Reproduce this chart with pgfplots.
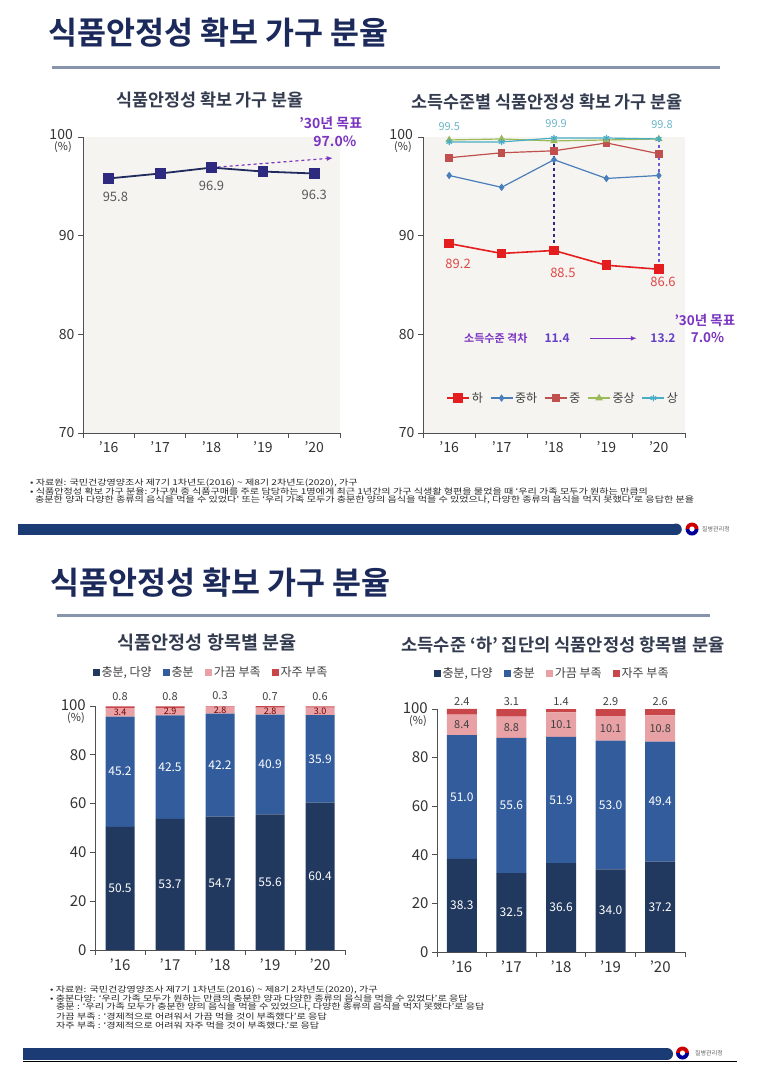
\documentclass[border=0pt]{standalone}
\usepackage{fontspec}
\setmainfont{Noto Sans CJK KR}[BoldFont={Noto Sans CJK KR Bold}]
\usepackage{graphicx}
\usepackage{pgfplots}
\pgfplotsset{compat=1.18}
\usetikzlibrary{arrows.meta}
\definecolor{titlenavy}{HTML}{1B2A5A}
\definecolor{rulegray}{HTML}{8794AB}
\definecolor{bgbeige}{HTML}{F6F4F0}
\definecolor{line1}{HTML}{1F2A5E}
\definecolor{mark1}{HTML}{2E2A80}
\definecolor{ctitle}{HTML}{333B4F}
\definecolor{purp}{HTML}{7A34C0}
\definecolor{purpb}{HTML}{6440C8}
\definecolor{ha}{HTML}{E41E1E}
\definecolor{jungha}{HTML}{4A7EBB}
\definecolor{jung}{HTML}{C0504D}
\definecolor{jungsang}{HTML}{9BBB59}
\definecolor{sang}{HTML}{4BACC6}
\definecolor{cA}{HTML}{22395F}
\definecolor{cB}{HTML}{335C9C}
\definecolor{cC}{HTML}{E8A2A6}
\definecolor{cD}{HTML}{C8464A}
\definecolor{footnavy}{HTML}{1A3B73}
\definecolor{labgray}{HTML}{595959}
\definecolor{axgray}{HTML}{505050}
\definecolor{vline1}{HTML}{2E2A80}
\definecolor{vline2}{HTML}{6A5FD0}
\definecolor{redlab}{HTML}{E04848}
\definecolor{cyanlab}{HTML}{6CB6C8}

\tikzset{
  wlab/.style={text=white, font=\fontsize{12}{12}\selectfont},
  plab/.style={text=red!45!black, font=\fontsize{9}{9}\selectfont, inner sep=0},
  tlab/.style={text=black!75, font=\fontsize{11}{11}\selectfont},
  fnote/.style={anchor=west, inner sep=0, text=black!85, font=\fontsize{8}{8}\selectfont},
}

\pgfplotsset{
  slide/.style={
    scale only axis,
    axis lines=left,
    axis line style={-, draw=axgray, line width=0.8pt},
    xmin=-0.5, xmax=4.5,
    xtick={0,...,4},
    xticklabels={’16,’17,’18,’19,’20},
    minor xtick={-0.5,0.5,1.5,2.5,3.5,4.5},
    major x tick style={draw=none},
    minor x tick style={draw=axgray, line width=0.8pt},
    y tick style={draw=axgray, line width=0.8pt},
    tick align=outside,
    major tick length=5pt, minor tick length=5pt,
    tick label style={font=\fontsize{14}{14}\selectfont, text=black!80},
    /pgf/number format/assume math mode=true,
    clip=false,
  }
}

\newcommand{\fn}[1]{\scalebox{1.26}[1]{#1}}

\begin{document}
\begin{tikzpicture}[x=1pt,y=1pt]
\useasboundingbox (0,0) rectangle (771,-1074);
\fill[white] (0,0) rectangle (771,-1074);

% ===== Panel 1 header =====
\node[anchor=west, font=\fontsize{31.5}{32}\selectfont\bfseries, text=titlenavy, inner sep=0] at (48,-33) {식품안정성 확보 가구 분율};
\fill[rulegray] (52,-65.5) rectangle (720,-69);

\node[font=\fontsize{17.4}{17.4}\selectfont\bfseries, text=ctitle] at (210,-100) {식품안정성 확보 가구 분율};
\node[font=\fontsize{17.4}{17.4}\selectfont\bfseries, text=ctitle] at (547,-102) {소득수준별 식품안정성 확보 가구 분율};

% ===== Chart 1 =====
\begin{axis}[slide, at={(83pt,-433pt)}, anchor=south west, width=257pt, height=296pt,
  ymin=70, ymax=100, ytick={70,80,90,100}, yticklabels={70,80,90,{}},
  axis background/.style={fill=bgbeige}]
\draw[purp, dashed, line width=1.2pt, -{Latex[length=6pt,width=5pt]}] (axis cs:2.12,96.95) -- (axis cs:4.36,97.87);
\addplot[line1, line width=1.8pt, mark=square*, mark size=4.5pt, mark options={fill=mark1, draw=mark1, solid}]
  coordinates {(0,95.8)(1,96.3)(2,96.9)(3,96.5)(4,96.3)};
\node[text=labgray, font=\fontsize{13}{13}\selectfont] at (axis cs:0.13,93.9) {95.8};
\node[text=labgray, font=\fontsize{13}{13}\selectfont] at (axis cs:2.0,95.0) {96.9};
\node[text=labgray, font=\fontsize{13}{13}\selectfont] at (axis cs:4.0,94.1) {96.3};
\node[text=purp, font=\fontsize{14}{14}\selectfont\bfseries] at (axis cs:4.32,101.4) {’30년 목표};
\node[text=purp, font=\fontsize{14}{14}\selectfont\bfseries] at (axis cs:4.4,99.6) {97.0\%};
\node[anchor=east, text=black!80, font=\fontsize{14}{14}\selectfont, inner sep=0] at (axis cs:-0.5,100) [xshift=-10pt, yshift=2pt] {100};
\node[anchor=north east, text=black!80, font=\fontsize{11}{11}\selectfont, inner sep=0] at (axis cs:-0.5,100) [xshift=-11pt, yshift=-4pt] {(\%)};
\end{axis}

% ===== Chart 2 =====
\begin{axis}[slide, at={(423pt,-433pt)}, anchor=south west, width=262pt, height=296pt,
  ymin=70, ymax=100, ytick={70,80,90,100}, yticklabels={70,80,90,{}},
  axis background/.style={fill=bgbeige},
  legend style={at={(0.535,0.118)}, anchor=center, draw=none, fill=none, legend columns=5,
    font=\fontsize{12}{12}\selectfont, text=black!75,
    /tikz/every even column/.append style={column sep=5pt}},
  legend image code/.code={\draw[mark repeat=2,mark phase=2,#1] plot coordinates {(0pt,0pt) (11pt,0pt) (22pt,0pt)};}]
\draw[vline1, dashed, line width=1.4pt] (axis cs:2,99.9) -- (axis cs:2,88.5);
\draw[vline2, dashed, line width=1.4pt] (axis cs:4,99.8) -- (axis cs:4,86.6);
\addplot[ha, line width=1.6pt, mark=square*, mark size=4pt, mark options={fill=ha}]
  coordinates {(0,89.2)(1,88.2)(2,88.5)(3,87.0)(4,86.6)};
\addlegendentry{하}
\addplot[jungha, line width=1.2pt, mark=diamond*, mark size=2.8pt, mark options={fill=jungha}]
  coordinates {(0,96.1)(1,94.9)(2,97.7)(3,95.8)(4,96.1)};
\addlegendentry{중하}
\addplot[jung, line width=1.2pt, mark=square*, mark size=3.2pt, mark options={fill=jung}]
  coordinates {(0,97.9)(1,98.4)(2,98.6)(3,99.4)(4,98.3)};
\addlegendentry{중}
\addplot[jungsang, line width=1.2pt, mark=triangle*, mark size=3.2pt, mark options={fill=jungsang}]
  coordinates {(0,99.7)(1,99.8)(2,99.6)(3,99.7)(4,99.8)};
\addlegendentry{중상}
\addplot[sang, line width=1.2pt, mark=asterisk, mark size=3.2pt]
  coordinates {(0,99.5)(1,99.5)(2,99.9)(3,99.9)(4,99.8)};
\addlegendentry{상}
\node[text=cyanlab, font=\fontsize{11}{11}\selectfont] at (axis cs:0,101.1) {99.5};
\node[text=cyanlab, font=\fontsize{11}{11}\selectfont] at (axis cs:2.04,101.4) {99.9};
\node[text=cyanlab, font=\fontsize{11}{11}\selectfont] at (axis cs:4.06,101.3) {99.8};
\node[text=redlab, font=\fontsize{13}{13}\selectfont] at (axis cs:0.17,87.1) {89.2};
\node[text=redlab, font=\fontsize{13}{13}\selectfont] at (axis cs:2.17,86.2) {88.5};
\node[text=redlab, font=\fontsize{13}{13}\selectfont] at (axis cs:4.08,85.3) {86.6};
\node[text=purp, font=\fontsize{11}{11}\selectfont\bfseries] at (axis cs:0.89,79.6) {소득수준 격차};
\node[text=purpb, font=\fontsize{12}{12}\selectfont\bfseries] at (axis cs:2.06,79.6) {11.4};
\draw[purp, line width=1.5pt, -{Latex[length=6pt,width=5pt]}] (axis cs:2.69,79.6) -- (axis cs:3.58,79.6);
\node[text=purpb, font=\fontsize{12}{12}\selectfont\bfseries] at (axis cs:4.08,79.6) {13.2};
\node[text=purp, font=\fontsize{13.5}{13.5}\selectfont\bfseries] at (axis cs:4.88,81.45) {’30년 목표};
\node[text=purp, font=\fontsize{13.5}{13.5}\selectfont\bfseries] at (axis cs:4.93,79.7) {7.0\%};
\node[anchor=east, text=black!80, font=\fontsize{14}{14}\selectfont, inner sep=0] at (axis cs:-0.5,100) [xshift=-10pt, yshift=2pt] {100};
\node[anchor=north east, text=black!80, font=\fontsize{11}{11}\selectfont, inner sep=0] at (axis cs:-0.5,100) [xshift=-11pt, yshift=-4pt] {(\%)};
\end{axis}

% footnotes panel 1
\node[fnote] at (30,-483) {\fn{• 자료원: 국민건강영양조사 제7기 1차년도(2016) \textasciitilde{} 제8기 2차년도(2020), 가구}};
\node[fnote] at (30,-491.5) {\fn{• 식품안정성 확보 가구 분율: 가구원 중 식품구매를 주로 담당하는 1명에게 최근 1년간의 가구 식생활 형편을 물었을 때 ‘우리 가족 모두가 원하는 만큼의}};
\node[fnote] at (35,-500) {\fn{충분한 양과 다양한 종류의 음식을 먹을 수 있었다’ 또는 ‘우리 가족 모두가 충분한 양의 음식을 먹을 수 있었으나, 다양한 종류의 음식을 먹지 못했다’로 응답한 분율}};
\fill[footnavy] (18,-523.5) rectangle (676,-535);
\fill[footnavy] (676,-529.25) circle (5.75);
\fill[red!80!black] (685.5,-529) arc (180:0:6.5) -- cycle;
\fill[blue!60!black] (685.5,-529) arc (180:360:6.5) -- cycle;
\fill[white] (692,-529) circle (2.6);
\node[anchor=west, inner sep=0, text=black!60, font=\fontsize{6}{6}\selectfont] at (702,-529) {질병관리청};

% ===== Panel 2 header =====
\node[anchor=west, font=\fontsize{31.5}{32}\selectfont\bfseries, text=titlenavy, inner sep=0] at (50,-583) {식품안정성 확보 가구 분율};
\fill[rulegray] (57,-613.5) rectangle (710,-617);

\node[font=\fontsize{18.5}{18.5}\selectfont\bfseries, text=ctitle] at (207,-643) {식품안정성 항목별 분율};
\node[font=\fontsize{17.6}{17.6}\selectfont\bfseries, text=ctitle] at (563,-645) {소득수준 ‘하’ 집단의 식품안정성 항목별 분율};

% ===== Chart 3 =====
\begin{axis}[slide, at={(95pt,-950pt)}, anchor=south west, width=250pt, height=244pt,
  ybar stacked, bar width=29pt, ymin=0, ymax=100,
  ytick={0,20,40,60,80,100}, yticklabels={0,20,40,60,80,{}},
  tick label style={font=\fontsize{15}{15}\selectfont, text=black!80},
  legend style={at={(0.464,1.139)}, anchor=center, draw=none, fill=none, legend columns=4,
    font=\fontsize{12}{12}\selectfont, text=black!75,
    /tikz/every even column/.append style={column sep=9pt}},
  legend image code/.code={\fill[#1] (0pt,-3.5pt) rectangle (7pt,3.5pt);}]
\addplot[fill=cA, draw=none] coordinates {(0,50.5)(1,53.7)(2,54.7)(3,55.6)(4,60.4)};
\addlegendentry{충분, 다양}
\addplot[fill=cB, draw=none] coordinates {(0,45.2)(1,42.5)(2,42.2)(3,40.9)(4,35.9)};
\addlegendentry{충분}
\addplot[fill=cC, draw=none] coordinates {(0,3.4)(1,2.9)(2,2.8)(3,2.8)(4,3.0)};
\addlegendentry{가끔 부족}
\addplot[fill=cD, draw=none] coordinates {(0,0.8)(1,0.8)(2,0.3)(3,0.7)(4,0.6)};
\addlegendentry{자주 부족}
\coordinate (a0) at (axis cs:0,25.25);
\coordinate (a1) at (axis cs:1,26.85);
\coordinate (a2) at (axis cs:2,27.35);
\coordinate (a3) at (axis cs:3,27.8);
\coordinate (a4) at (axis cs:4,30.2);
\coordinate (b0) at (axis cs:0,73.1);
\coordinate (b1) at (axis cs:1,74.95);
\coordinate (b2) at (axis cs:2,75.8);
\coordinate (b3) at (axis cs:3,76.05);
\coordinate (b4) at (axis cs:4,78.35);
\coordinate (c0) at (axis cs:0,97.4);
\coordinate (c1) at (axis cs:1,97.65);
\coordinate (c2) at (axis cs:2,98.3);
\coordinate (c3) at (axis cs:3,97.9);
\coordinate (c4) at (axis cs:4,97.8);
\node[tlab] at (axis cs:0,103.7) {0.8};
\node[tlab] at (axis cs:1,103.7) {0.8};
\node[tlab] at (axis cs:2,104.2) {0.3};
\node[tlab] at (axis cs:3,103.7) {0.7};
\node[tlab] at (axis cs:4,103.7) {0.6};
\node[anchor=east, text=black!80, font=\fontsize{15}{15}\selectfont, inner sep=0] at (axis cs:-0.5,100) [xshift=-9pt, yshift=1pt] {100};
\node[anchor=north east, text=black!80, font=\fontsize{11}{11}\selectfont, inner sep=0] at (axis cs:-0.5,100) [xshift=-10pt, yshift=-6pt] {(\%)};
\end{axis}
\node[wlab] at (a0) {50.5};
\node[wlab] at (a1) {53.7};
\node[wlab] at (a2) {54.7};
\node[wlab] at (a3) {55.6};
\node[wlab] at (a4) {60.4};
\node[wlab] at (b0) {45.2};
\node[wlab] at (b1) {42.5};
\node[wlab] at (b2) {42.2};
\node[wlab] at (b3) {40.9};
\node[wlab] at (b4) {35.9};
\node[plab] at (c0) {3.4};
\node[plab] at (c1) {2.9};
\node[plab] at (c2) {2.8};
\node[plab] at (c3) {2.8};
\node[plab] at (c4) {3.0};

% ===== Chart 4 =====
\begin{axis}[slide, at={(437pt,-952pt)}, anchor=south west, width=248pt, height=243pt,
  ybar stacked, bar width=30pt, ymin=0, ymax=100,
  ytick={0,20,40,60,80,100}, yticklabels={0,20,40,60,80,{}},
  tick label style={font=\fontsize{15}{15}\selectfont, text=black!80},
  legend style={at={(0.464,1.148)}, anchor=center, draw=none, fill=none, legend columns=4,
    font=\fontsize{12}{12}\selectfont, text=black!75,
    /tikz/every even column/.append style={column sep=9pt}},
  legend image code/.code={\fill[#1] (0pt,-3.5pt) rectangle (7pt,3.5pt);}]
\addplot[fill=cA, draw=none] coordinates {(0,38.3)(1,32.5)(2,36.6)(3,34.0)(4,37.2)};
\addlegendentry{충분, 다양}
\addplot[fill=cB, draw=none] coordinates {(0,51.0)(1,55.6)(2,51.9)(3,53.0)(4,49.4)};
\addlegendentry{충분}
\addplot[fill=cC, draw=none] coordinates {(0,8.4)(1,8.8)(2,10.1)(3,10.1)(4,10.8)};
\addlegendentry{가끔 부족}
\addplot[fill=cD, draw=none] coordinates {(0,2.4)(1,3.1)(2,1.4)(3,2.9)(4,2.6)};
\addlegendentry{자주 부족}
\coordinate (d0) at (axis cs:0,19.15);
\coordinate (d1) at (axis cs:1,16.25);
\coordinate (d2) at (axis cs:2,18.3);
\coordinate (d3) at (axis cs:3,17);
\coordinate (d4) at (axis cs:4,18.6);
\coordinate (e0) at (axis cs:0,63.8);
\coordinate (e1) at (axis cs:1,60.3);
\coordinate (e2) at (axis cs:2,62.55);
\coordinate (e3) at (axis cs:3,60.5);
\coordinate (e4) at (axis cs:4,61.9);
\coordinate (f0) at (axis cs:0,93.5);
\coordinate (f1) at (axis cs:1,92.5);
\coordinate (f2) at (axis cs:2,93.55);
\coordinate (f3) at (axis cs:3,92.05);
\coordinate (f4) at (axis cs:4,92);
\node[tlab] at (axis cs:0,103.2) {2.4};
\node[tlab] at (axis cs:1,103.2) {3.1};
\node[tlab] at (axis cs:2,103.2) {1.4};
\node[tlab] at (axis cs:3,103.2) {2.9};
\node[tlab] at (axis cs:4,103.2) {2.6};
\node[anchor=east, text=black!80, font=\fontsize{15}{15}\selectfont, inner sep=0] at (axis cs:-0.5,100) [xshift=-9pt, yshift=1pt] {100};
\node[anchor=north east, text=black!80, font=\fontsize{11}{11}\selectfont, inner sep=0] at (axis cs:-0.5,100) [xshift=-10pt, yshift=-6pt] {(\%)};
\end{axis}
\node[wlab] at (d0) {38.3};
\node[wlab] at (d1) {32.5};
\node[wlab] at (d2) {36.6};
\node[wlab] at (d3) {34.0};
\node[wlab] at (d4) {37.2};
\node[wlab] at (e0) {51.0};
\node[wlab] at (e1) {55.6};
\node[wlab] at (e2) {51.9};
\node[wlab] at (e3) {53.0};
\node[wlab] at (e4) {49.4};
\node[tlab] at (f0) {8.4};
\node[tlab] at (f1) {8.8};
\node[tlab] at (f2) {10.1};
\node[tlab] at (f3) {10.1};
\node[tlab] at (f4) {10.8};

% footnotes panel 2
\node[fnote] at (50,-990) {\fn{• 자료원: 국민건강영양조사 제7기 1차년도(2016) \textasciitilde{} 제8기 2차년도(2020), 가구}};
\node[fnote] at (50,-998.5) {\fn{• 충분다양:  ‘우리 가족 모두가 원하는 만큼의 충분한 양과 다양한 종류의 음식을 먹을 수 있었다’로 응답}};
\node[fnote] at (56,-1007) {\fn{충분 : ‘우리 가족 모두가 충분한 양의 음식을 먹을 수 있었으나, 다양한 종류의 음식을 먹지 못했다’로 응답}};
\node[fnote] at (56,-1016) {\fn{가끔 부족 : ‘경제적으로 어려워서 가끔 먹을 것이 부족했다’로 응답}};
\node[fnote] at (56,-1025) {\fn{자주 부족 : ‘경제적으로 어려워 자주 먹을 것이 부족했다.’로 응답}};
\fill[footnavy] (23,-1048) rectangle (667,-1060);
\fill[footnavy] (667,-1054) circle (6);
\draw[black, line width=1.4pt] (23,-1061.5) -- (737,-1061.5);
\fill[red!80!black] (676,-1053) arc (180:0:6.5) -- cycle;
\fill[blue!60!black] (676,-1053) arc (180:360:6.5) -- cycle;
\fill[white] (682.5,-1053) circle (2.6);
\node[anchor=west, inner sep=0, text=black!60, font=\fontsize{6}{6}\selectfont] at (695,-1053) {질병관리청};
\end{tikzpicture}
\end{document}
